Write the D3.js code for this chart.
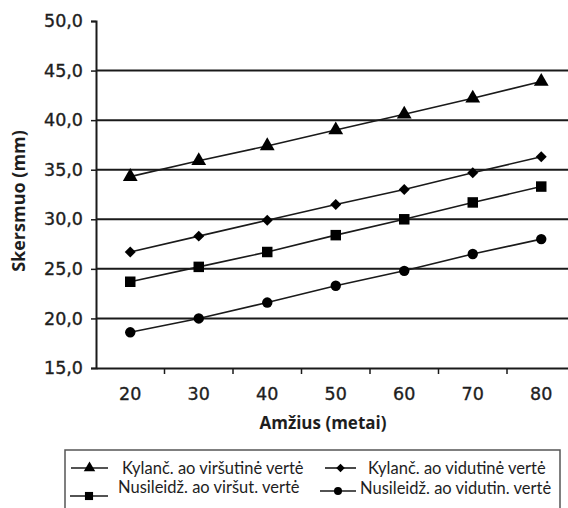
<!DOCTYPE html>
<html>
<head>
<meta charset="utf-8">
<script src="https://cdn.jsdelivr.net/npm/d3@7"></script>
<style>
  html, body { margin: 0; padding: 0; background: #fff; }
  svg { display: block; }
  text { fill: #1e1e1e; }
</style>
</head>
<body>
<svg id="chart" width="568" height="508"></svg>
<script>
// Age groups (years)
const ages = ["20", "30", "40", "50", "60", "70", "80"];
// Y axis ticks (mm)
const yTicks = [15, 20, 25, 30, 35, 40, 45, 50];

// Diameter series (mm)
const kylUpper   = [34.3, 35.9, 37.4, 39.0, 40.6, 42.2, 43.9];
const kylMean    = [26.7, 28.3, 29.9, 31.5, 33.0, 34.7, 36.3];
const nusUpper   = [23.7, 25.2, 26.7, 28.4, 30.0, 31.7, 33.3];
const nusMean    = [18.6, 20.0, 21.6, 23.3, 24.8, 26.5, 28.0];

const seriesNames = [
  "Kylanč. ao viršutinė vertė",
  "Kylanč. ao vidutinė vertė",
  "Nusileidž. ao viršut. vertė",
  "Nusileidž. ao vidutin. vertė"
];

const series = [
  { name: seriesNames[0], values: kylUpper, symbol: d3.symbolTriangle, size: 95,  rot: 0 },
  { name: seriesNames[1], values: kylMean,  symbol: d3.symbolSquare,   size: 60,  rot: 45 },
  { name: seriesNames[2], values: nusUpper, symbol: d3.symbolSquare,   size: 110, rot: 0 },
  { name: seriesNames[3], values: nusMean,  symbol: d3.symbolCircle,   size: 85,  rot: 0 }
];

const svg = d3.select("#chart");
const ink = "#1a1a1a";

const x = d3.scaleBand().domain(ages).range([96, 575.5]).paddingInner(0).paddingOuter(0);
const y = d3.scaleLinear().domain([15, 50]).range([368, 21]);
const cx = d => x(d) + x.bandwidth() / 2;

// Horizontal gridlines
svg.append("g")
  .selectAll("line")
  .data(yTicks.filter(v => v > 15 && v < 50))
  .join("line")
  .attr("x1", 96).attr("x2", 568)
  .attr("y1", d => y(d)).attr("y2", d => y(d))
  .attr("stroke", ink).attr("stroke-width", 2);

const fmt = d3.format(".1f");

// Y axis
const yAxis = svg.append("g")
  .attr("transform", "translate(96,0)")
  .call(d3.axisLeft(y).tickValues(yTicks).tickSize(5).tickPadding(8)
        .tickFormat(d => fmt(d).replace(".", ",")));
yAxis.select(".domain").attr("stroke", ink).attr("stroke-width", 2);
yAxis.selectAll(".tick line").attr("stroke", ink).attr("stroke-width", 1.5);
yAxis.selectAll(".tick text")
  .attr("font-family", "DejaVu Sans").attr("font-size", 17.5)
  .attr("fill", "#1e1e1e").attr("stroke", "#1e1e1e").attr("stroke-width", 0.35);

// X axis: labels centred in each band, ticks at band edges
const xAxis = svg.append("g")
  .attr("transform", "translate(0,368)")
  .call(d3.axisBottom(x).tickSize(0).tickPadding(20).tickSizeOuter(0));
xAxis.select(".domain").attr("stroke", ink).attr("stroke-width", 2);
xAxis.selectAll(".tick text")
  .attr("font-family", "DejaVu Sans").attr("font-size", 17.5)
  .attr("fill", "#1e1e1e").attr("stroke", "#1e1e1e").attr("stroke-width", 0.35);
xAxis.selectAll("line.edge")
  .data(ages.slice(1).map(d => x(d)))
  .join("line")
  .attr("class", "edge")
  .attr("x1", d => d).attr("x2", d => d)
  .attr("y1", 0).attr("y2", 6)
  .attr("stroke", ink).attr("stroke-width", 1.5);

// Axis titles
svg.append("text")
  .attr("transform", "translate(25,201) rotate(-90)")
  .attr("text-anchor", "middle")
  .attr("font-family", "Open Sans").attr("font-weight", "bold").attr("font-size", 18)
  .text("Skersmuo (mm)");

svg.append("text")
  .attr("x", 323).attr("y", 429)
  .attr("text-anchor", "middle")
  .attr("font-family", "Open Sans").attr("font-weight", "bold").attr("font-size", 17)
  .text("Amžius (metai)");

// Series lines and markers
const line = d3.line().x((v, i) => cx(ages[i])).y(v => y(v));

series.forEach(s => {
  svg.append("path")
    .datum(s.values)
    .attr("d", line)
    .attr("fill", "none")
    .attr("stroke", ink).attr("stroke-width", 1.6);
  svg.append("g")
    .selectAll("path")
    .data(s.values)
    .join("path")
    .attr("transform", (v, i) => `translate(${cx(ages[i])},${y(v)}) rotate(${s.rot})`)
    .attr("d", d3.symbol().type(s.symbol).size(s.size))
    .attr("fill", "#000");
});

// Legend
const legend = svg.append("g");
legend.append("rect")
  .attr("x", 65).attr("y", 450).attr("width", 495).attr("height", 70)
  .attr("fill", "#fff").attr("stroke", "#555").attr("stroke-width", 1.5);

const legendItems = [
  { s: series[0], lx1: 71,  lx2: 108, ly: 468, tx: 122, ty: 468 },
  { s: series[1], lx1: 325, lx2: 356, ly: 468, tx: 368, ty: 468 },
  { s: series[2], lx1: 70,  lx2: 108, ly: 496, tx: 118, ty: 487 },
  { s: series[3], lx1: 320, lx2: 356, ly: 491, tx: 360, ty: 488 }
];

legendItems.forEach(it => {
  legend.append("line")
    .attr("x1", it.lx1).attr("x2", it.lx2)
    .attr("y1", it.ly).attr("y2", it.ly)
    .attr("stroke", ink).attr("stroke-width", 1.6);
  legend.append("path")
    .attr("transform", `translate(${(it.lx1 + it.lx2) / 2},${it.ly}) rotate(${it.s.rot})`)
    .attr("d", d3.symbol().type(it.s.symbol).size(it.s.size * 0.6))
    .attr("fill", "#000");
  legend.append("text")
    .attr("x", it.tx).attr("y", it.ty)
    .attr("dy", "0.35em")
    .attr("font-family", "Lato").attr("font-size", 16.5)
    .text(it.s.name);
});
</script>
</body>
</html>
